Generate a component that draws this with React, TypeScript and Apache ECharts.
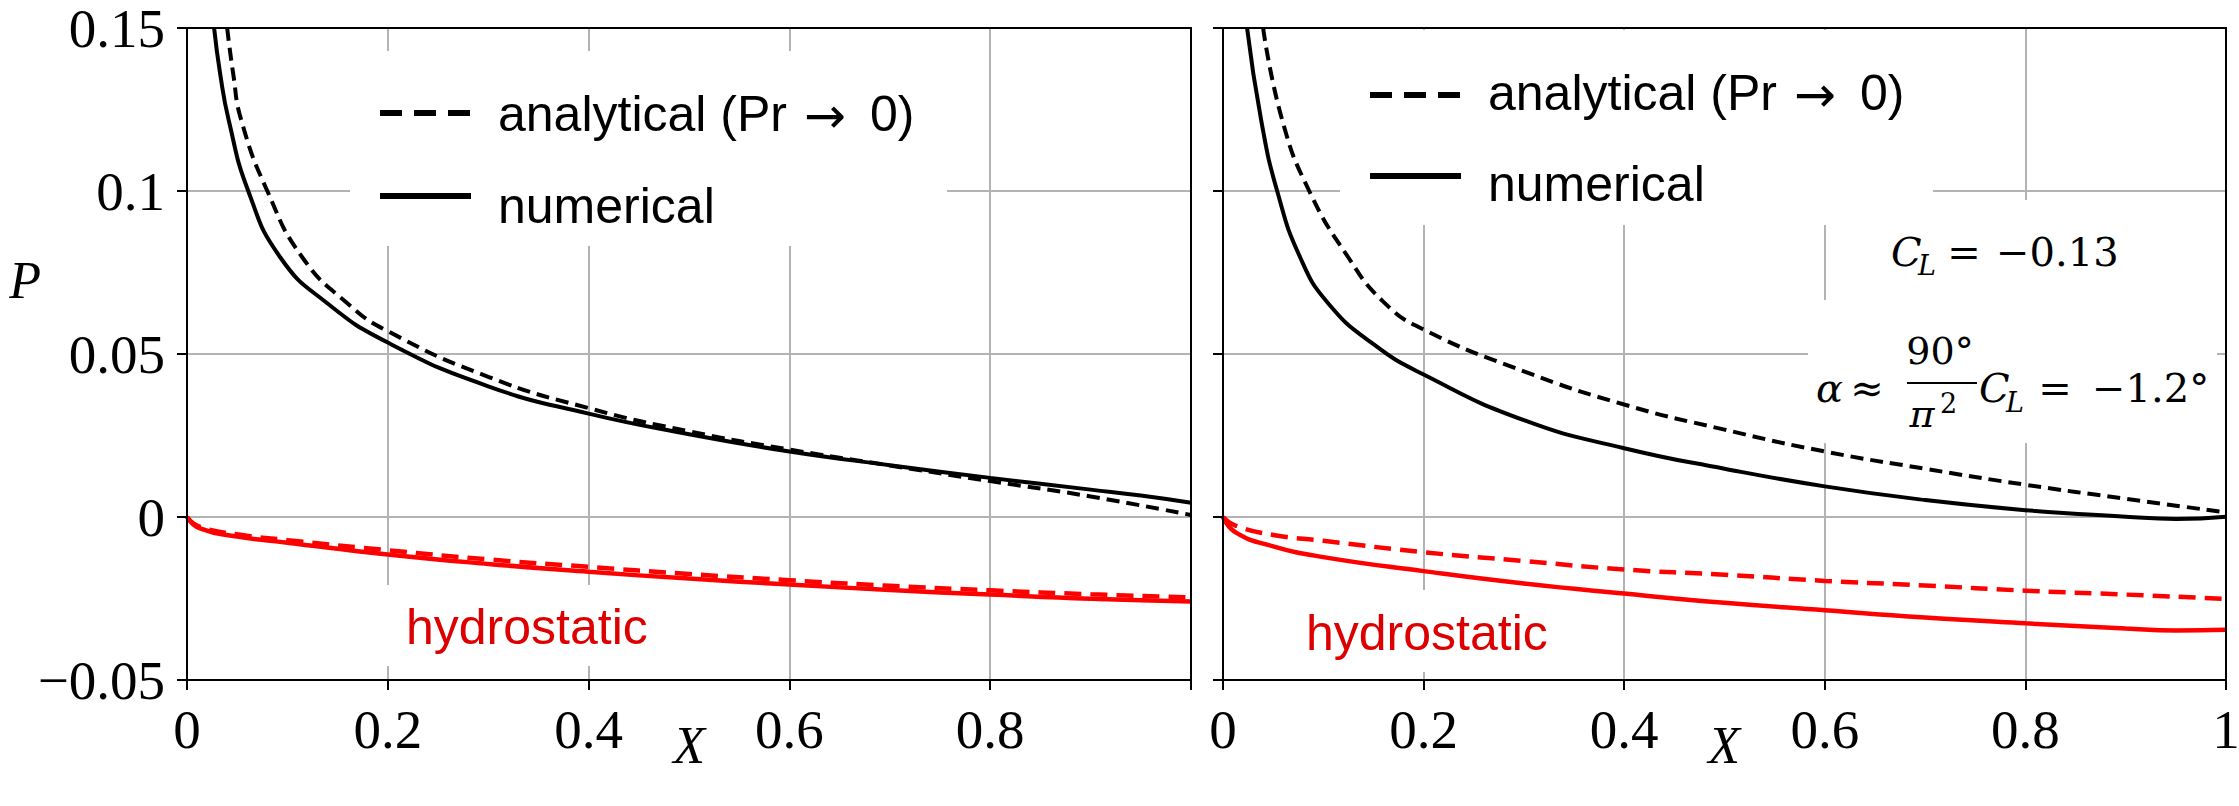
import { useEffect, useRef } from 'react';
import * as echarts from 'echarts';

// ---- axis ranges / ticks ----
const X_MIN = 0, X_MAX = 1, X_STEP = 0.2;
const P_MIN = -0.05, P_MAX = 0.15, P_STEP = 0.05;

// ---- left panel: black (full pressure) ----
const leftNumX = [0.027, 0.033, 0.0415, 0.061, 0.093, 0.14, 0.2, 0.3, 0.4, 0.5, 0.6, 0.7, 0.8, 0.9, 0.95, 1.0];
const leftNumP = [0.15, 0.136, 0.1218, 0.1, 0.0796, 0.0655, 0.0535, 0.0401, 0.0317, 0.0254, 0.0201, 0.0159, 0.012, 0.0084, 0.0066, 0.0044];
const leftAnaX = [0.04, 0.046, 0.054, 0.08, 0.115, 0.16, 0.2, 0.3, 0.4, 0.5, 0.6, 0.7, 0.8, 0.9, 1.0];
const leftAnaP = [0.15, 0.136, 0.1218, 0.1, 0.0796, 0.0655, 0.057, 0.043, 0.0334, 0.0263, 0.0207, 0.0158, 0.011, 0.0063, 0.0006];
// ---- left panel: red (hydrostatic) ----
const leftHydNumX = [0, 0.013, 0.05, 0.1, 0.2, 0.3, 0.4, 0.5, 0.6, 0.7, 0.8, 0.9, 1.0];
const leftHydNumP = [0, -0.0035, -0.006, -0.0079, -0.0115, -0.0144, -0.0168, -0.0189, -0.0207, -0.0224, -0.0238, -0.0251, -0.0259];
const leftHydAnaX = [0, 0.013, 0.05, 0.1, 0.2, 0.3, 0.4, 0.5, 0.6, 0.7, 0.8, 0.9, 1.0];
const leftHydAnaP = [0, -0.003, -0.0053, -0.0071, -0.0102, -0.013, -0.0153, -0.0175, -0.0194, -0.0211, -0.0225, -0.0237, -0.0247];

// ---- right panel: black ----
const rightNumX = [0.024, 0.038, 0.054, 0.077, 0.105, 0.15, 0.2, 0.3, 0.4, 0.5, 0.6, 0.7, 0.8, 0.9, 0.95, 1.0];
const rightNumP = [0.15, 0.1218, 0.1, 0.0796, 0.0655, 0.053, 0.0437, 0.0297, 0.0211, 0.0148, 0.0094, 0.0052, 0.0021, 0.0001, -0.0006, 0.0001];
const rightAnaX = [0.04, 0.059, 0.086, 0.125, 0.16, 0.2, 0.3, 0.4, 0.5, 0.6, 0.7, 0.8, 0.9, 1.0];
const rightAnaP = [0.15, 0.1218, 0.1, 0.0796, 0.066, 0.0575, 0.0447, 0.0345, 0.0268, 0.0201, 0.0148, 0.0099, 0.0056, 0.0014];
// ---- right panel: red ----
const rightHydNumX = [0, 0.013, 0.05, 0.1, 0.2, 0.3, 0.4, 0.5, 0.6, 0.7, 0.8, 0.9, 0.95, 1.0];
const rightHydNumP = [0, -0.0048, -0.009, -0.0123, -0.0166, -0.0204, -0.0235, -0.0263, -0.0286, -0.0308, -0.0326, -0.0342, -0.0348, -0.0346];
const rightHydAnaX = [0, 0.013, 0.05, 0.1, 0.2, 0.3, 0.4, 0.5, 0.6, 0.7, 0.8, 0.9, 1.0];
const rightHydAnaP = [0, -0.0027, -0.0055, -0.0073, -0.0108, -0.0135, -0.0161, -0.0177, -0.0196, -0.021, -0.0226, -0.0238, -0.0251];

// ---- texts ----
const legendDashedText = 'analytical (Pr';
const legendArrow = '\u2192';
const legendDashedTail = '0)';
const legendSolidText = 'numerical';
const hydroText = 'hydrostatic';
const yTitle = 'P';
const xTitle = 'X';

const pairs = (xs: number[], ys: number[]) => xs.map((x, i) => [x, ys[i]]);
const fmt = (v: number) => String(parseFloat(v.toFixed(4))).replace('-', '\u2212');

const SERIF = '"Liberation Serif", "Times New Roman", serif';
const SANS = '"Liberation Sans", Arial, sans-serif';
const MATH = '"DejaVu Serif", serif';

export default function App() {
  const ref = useRef<HTMLDivElement>(null);
  useEffect(() => {
    if (!ref.current) return;
    const chart = echarts.init(ref.current, undefined, { renderer: 'svg' });

    const grids = [
      { left: 187, top: 28, width: 1004, height: 652 },
      { left: 1223, top: 28, width: 1003, height: 652 },
    ];

    const mainX = (g: number) => ({
      type: 'value', gridIndex: g, min: X_MIN, max: X_MAX, interval: X_STEP, position: 'bottom', z: 5,
      axisLine: { show: true, onZero: false, lineStyle: { color: '#000', width: 2 } },
      axisTick: { show: true, inside: false, length: 10, lineStyle: { color: '#000', width: 2 } },
      axisLabel: {
        show: true, margin: 22, color: '#000', fontFamily: SERIF, fontSize: 55,
        showMinLabel: true, showMaxLabel: true,
        formatter: (v: number) => (g === 0 && v >= 0.999 ? '' : fmt(v)),
      },
      splitLine: { show: false },
    });
    const mainY = (g: number) => ({
      type: 'value', gridIndex: g, min: P_MIN, max: P_MAX, interval: P_STEP, position: 'left', z: 5,
      axisLine: { show: true, onZero: false, lineStyle: { color: '#000', width: 2 } },
      axisTick: { show: true, inside: false, length: 10, lineStyle: { color: '#000', width: 2 } },
      axisLabel: {
        show: g === 0, margin: 22, color: '#000', fontFamily: SERIF, fontSize: 55,
        showMinLabel: true, showMaxLabel: true, formatter: (v: number) => fmt(v),
      },
      splitLine: { show: false },
    });
    const gridX = (g: number) => ({
      type: 'value', gridIndex: g, min: X_MIN, max: X_MAX, interval: X_STEP, z: 0,
      axisLine: { show: false, onZero: false }, axisTick: { show: false }, axisLabel: { show: false },
      splitLine: { show: true, lineStyle: { color: '#b3b3b3', width: 2 } },
    });
    const gridY = (g: number) => ({
      type: 'value', gridIndex: g, min: P_MIN, max: P_MAX, interval: P_STEP, z: 0,
      axisLine: { show: false, onZero: false }, axisTick: { show: false }, axisLabel: { show: false },
      splitLine: { show: true, lineStyle: { color: '#b3b3b3', width: 2 } },
    });
    const frameX = (g: number) => ({
      type: 'value', gridIndex: g, min: X_MIN, max: X_MAX, interval: X_STEP, position: 'top', z: 5,
      axisLine: { show: true, onZero: false, lineStyle: { color: '#000', width: 2 } },
      axisTick: { show: false }, axisLabel: { show: false }, splitLine: { show: false },
    });
    const frameY = (g: number) => ({
      type: 'value', gridIndex: g, min: P_MIN, max: P_MAX, interval: P_STEP, position: 'right', z: 5,
      axisLine: { show: true, onZero: false, lineStyle: { color: '#000', width: 2 } },
      axisTick: { show: false }, axisLabel: { show: false }, splitLine: { show: false },
    });

    const line = (g: number, name: string, data: number[][], color: string, width: number, dash: number[] | null) => ({
      type: 'line', name, xAxisIndex: g, yAxisIndex: g, data,
      showSymbol: false, symbol: 'none', smooth: 0.5, clip: true, z: 2,
      lineStyle: { color, width, type: dash ? dash : 'solid', cap: 'butt' },
    });

    const BLK_DASH = [13, 7];
    const RED_DASH = [17, 9];
    const RED = '#ff0000';

    const rect = (x: number, y: number, w: number, h: number) => ({
      type: 'rect', z: 1, silent: true, shape: { x, y, width: w, height: h }, style: { fill: '#ffffff' },
    });
    const txt = (text: string, x: number, y: number, font: string, size: number, opts: any = {}) => ({
      type: 'text', z: 10, silent: true, x, y,
      style: {
        text, fill: opts.fill || '#000', fontFamily: font, fontSize: size, fontStyle: opts.italic ? 'italic' : 'normal',
        textAlign: opts.align || 'left', textVerticalAlign: 'middle', verticalAlign: 'middle',
      },
    });
    const seg = (x1: number, y1: number, x2: number, y2: number, w: number, dash: number[] | null) => ({
      type: 'line', z: 10, silent: true, shape: { x1, y1, x2, y2 },
      style: { stroke: '#000', lineWidth: w, lineDash: dash || undefined, lineCap: 'butt' },
    });
    const legendLabel = (x: number, y: number) => [
      txt(legendDashedText, x, y, SANS, 50),
      txt(legendArrow, x + 306, y + 2, '"DejaVu Sans", sans-serif', 50),
      txt(legendDashedTail, x + 372, y, SANS, 50),
    ];

    const option: any = {
      animation: false,
      backgroundColor: '#ffffff',
      grid: grids.map((g) => ({ ...g, containLabel: false, outerBoundsMode: 'none' })),
      xAxis: [mainX(0), mainX(1), gridX(0), gridX(1), frameX(0), frameX(1)],
      yAxis: [mainY(0), mainY(1), gridY(0), gridY(1), frameY(0), frameY(1)],
      series: [
        line(0, 'hydro analytical L', pairs(leftHydAnaX, leftHydAnaP), RED, 4.5, RED_DASH),
        line(0, 'hydro numerical L', pairs(leftHydNumX, leftHydNumP), RED, 4.5, null),
        line(0, 'analytical L', pairs(leftAnaX, leftAnaP), '#000', 4, BLK_DASH),
        line(0, 'numerical L', pairs(leftNumX, leftNumP), '#000', 4, null),
        line(1, 'hydro analytical R', pairs(rightHydAnaX, rightHydAnaP), RED, 4.5, RED_DASH),
        line(1, 'hydro numerical R', pairs(rightHydNumX, rightHydNumP), RED, 4.5, null),
        line(1, 'analytical R', pairs(rightAnaX, rightAnaP), '#000', 4, BLK_DASH),
        line(1, 'numerical R', pairs(rightNumX, rightNumP), '#000', 4, null),
      ],
      graphic: {
        elements: [
          // white text boxes (hide grid lines behind annotations)
          rect(350, 51, 597, 195),
          rect(376, 585, 307, 81),
          rect(1340, 30, 593, 195),
          rect(1276, 590, 308, 82),
          rect(1870, 200, 270, 100),
          rect(1808, 300, 409, 143),
          // legends
          seg(380, 113, 471, 113, 6, [22, 12]),
          seg(380, 196, 471, 196, 6, null),
          ...legendLabel(498, 114),
          txt(legendSolidText, 498, 206, SANS, 50),
          seg(1370, 95, 1461, 95, 6, [22, 12]),
          seg(1370, 176, 1461, 176, 6, null),
          ...legendLabel(1488, 93),
          txt(legendSolidText, 1488, 184, SANS, 50),
          // hydrostatic labels
          txt(hydroText, 406, 627, SANS, 50, { fill: '#dd0000' }),
          txt(hydroText, 1306, 633, SANS, 50, { fill: '#dd0000' }),
          // axis titles
          txt(yTitle, 25, 280, SERIF, 52, { italic: true, align: 'center' }),
          txt(xTitle, 689, 745, SERIF, 52, { italic: true, align: 'center' }),
          txt(xTitle, 1724, 745, SERIF, 52, { italic: true, align: 'center' }),
          // C_L = -0.13
          txt('C', 1891, 252, MATH, 40, { italic: true }),
          txt('L', 1918, 265, MATH, 27, { italic: true }),
          txt('=', 1964, 252, MATH, 40, { align: 'center' }),
          txt('\u22120.13', 1996, 252, MATH, 40),
          // alpha ~ 90deg/pi^2 C_L = -1.2deg
          txt('\u03b1', 1816, 388, MATH, 40, { italic: true }),
          txt('\u2248', 1867, 388, MATH, 40, { align: 'center' }),
          txt('90\u00b0', 1940, 351, MATH, 38, { align: 'center' }),
          seg(1907, 383, 1977, 383, 2, null),
          txt('\u03c0', 1922, 414, MATH, 38, { italic: true, align: 'center' }),
          txt('2', 1940, 403, MATH, 27),
          txt('C', 1979, 388, MATH, 40, { italic: true }),
          txt('L', 2006, 402, MATH, 27, { italic: true }),
          txt('=', 2055, 388, MATH, 40, { align: 'center' }),
          txt('\u22121.2\u00b0', 2092, 388, MATH, 40),
        ],
      },
    };

    chart.setOption(option);
    return () => chart.dispose();
  }, []);

  return <div ref={ref} style={{ position: 'absolute', left: 0, top: 0, width: 2239, height: 806 }} />;
}
